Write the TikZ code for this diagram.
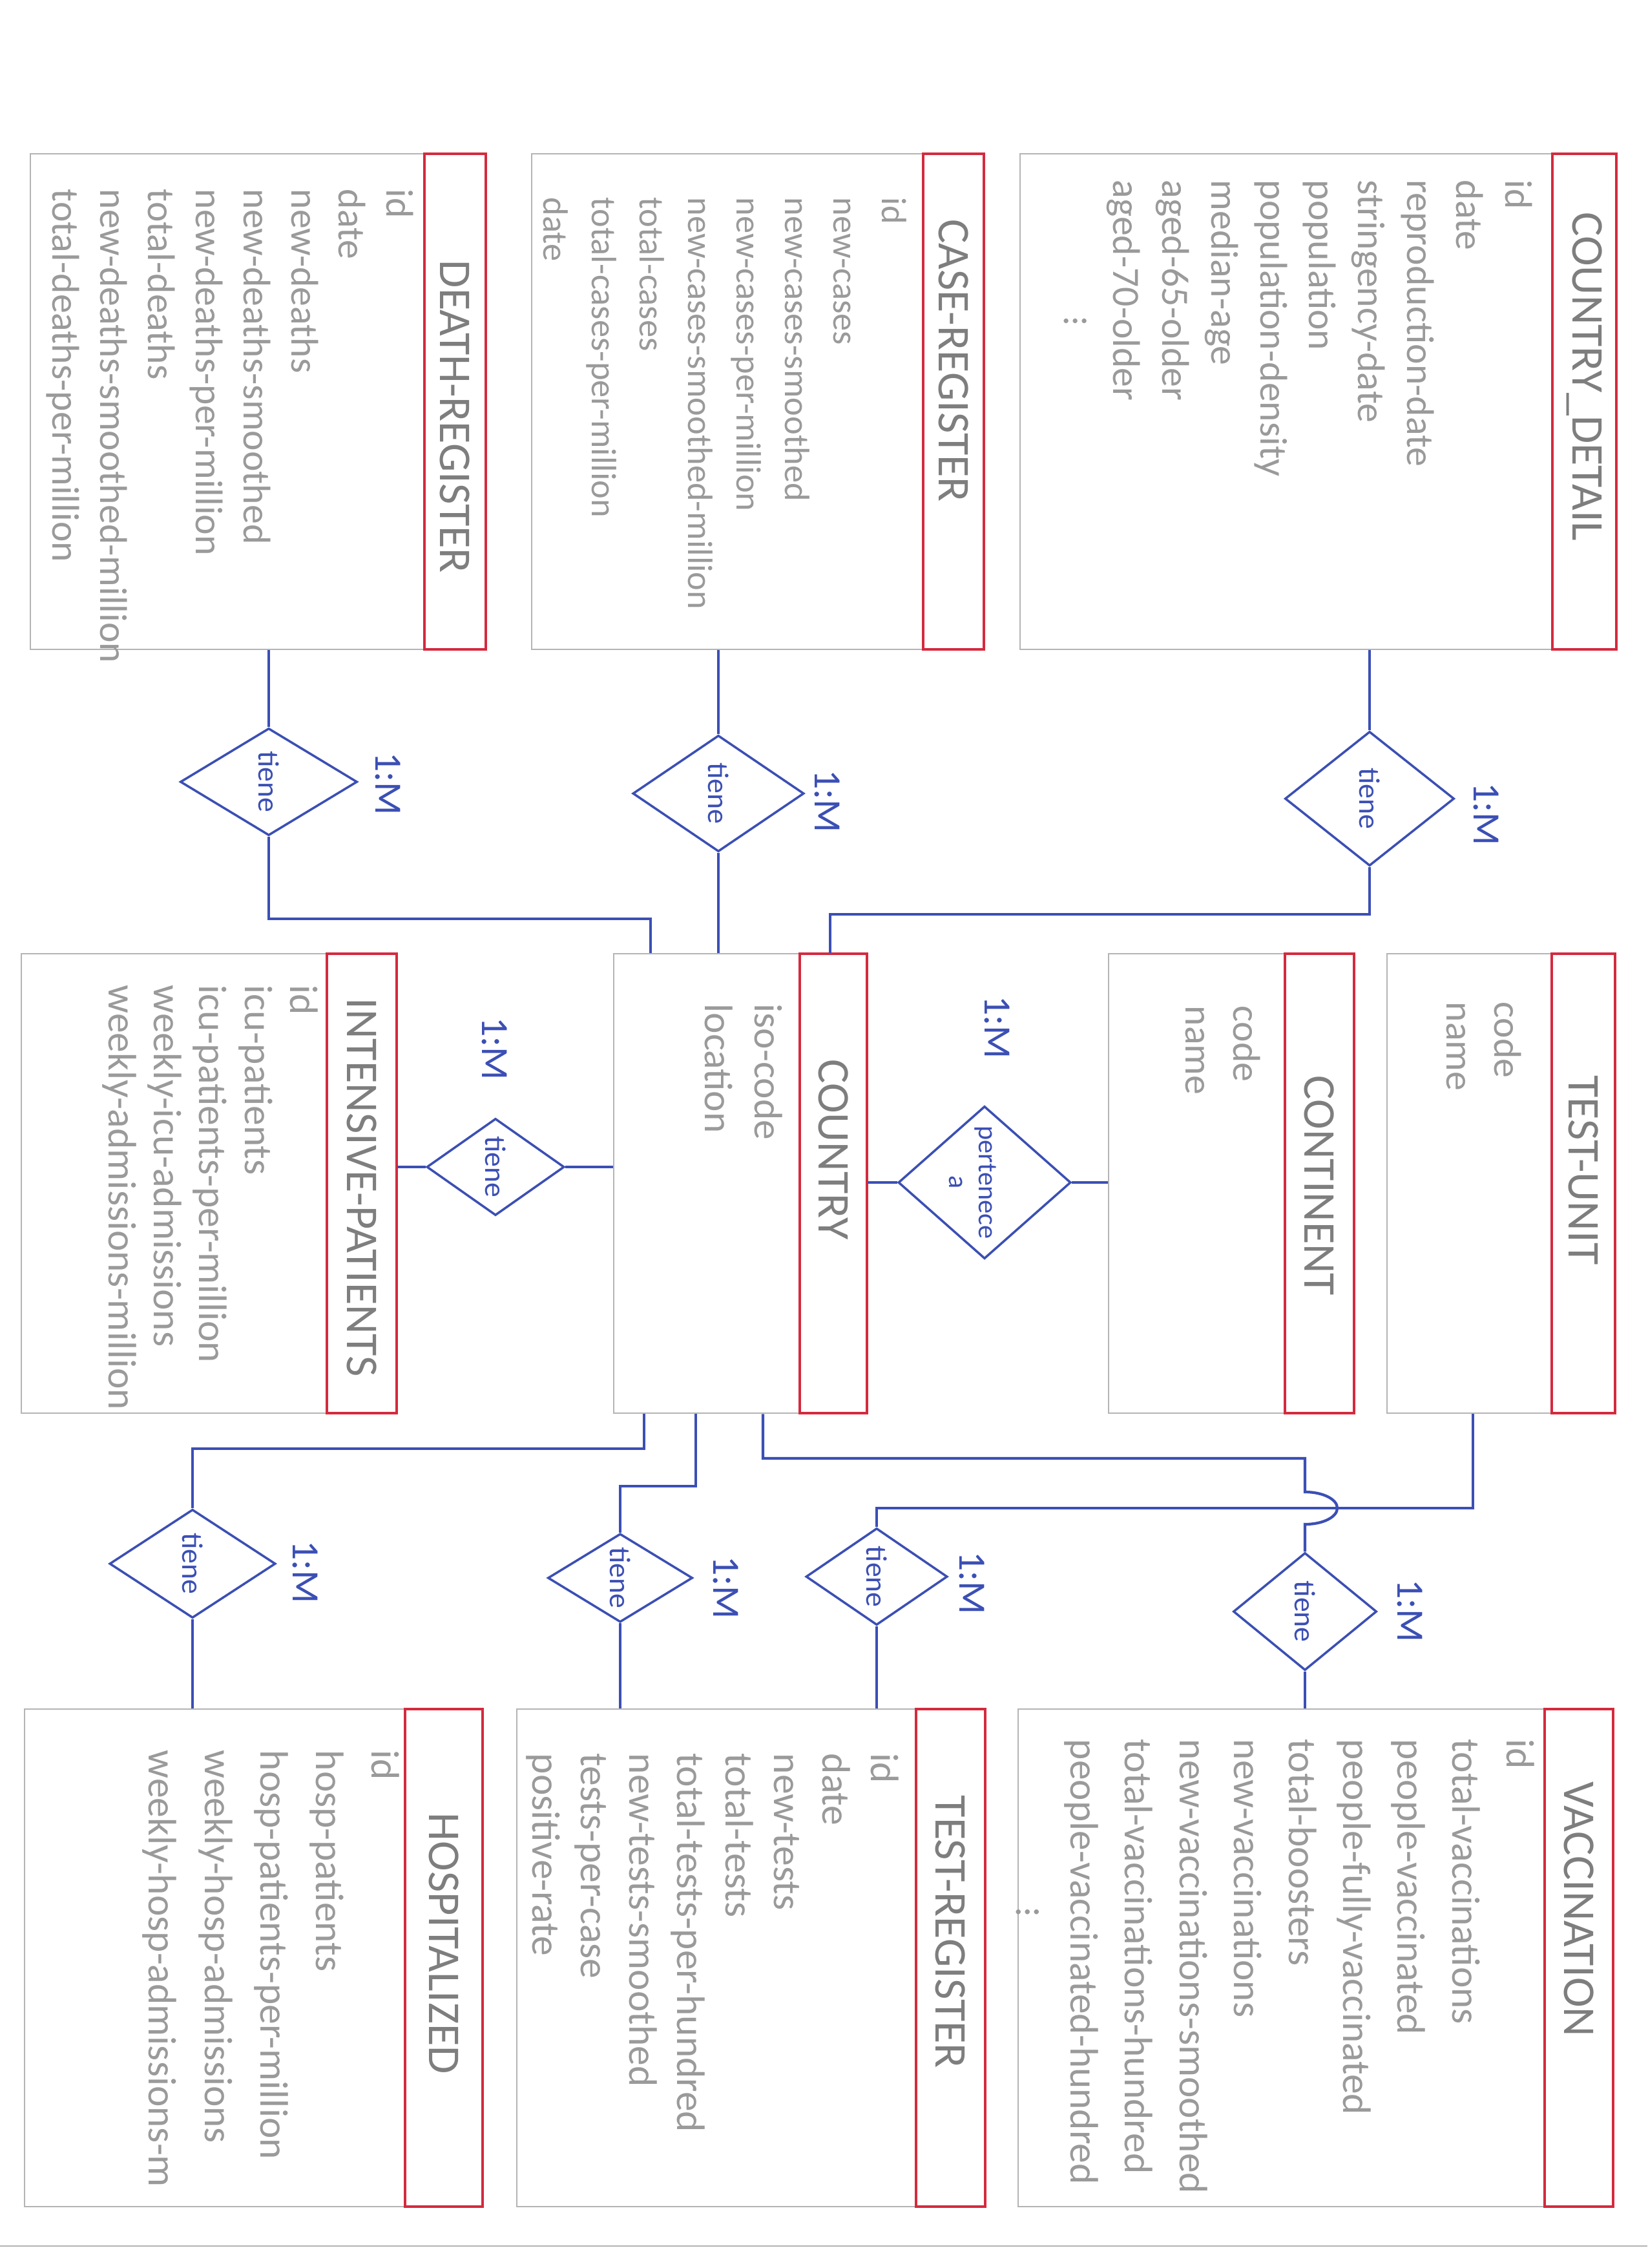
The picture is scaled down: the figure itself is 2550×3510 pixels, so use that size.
\documentclass[tikz,border=0pt]{standalone}
\usepackage{fontspec}
\setmainfont{Carlito}
\usetikzlibrary{shapes.geometric}

\definecolor{pencil}{HTML}{B4B4B4}
\definecolor{lead}{HTML}{9A9A9A}
\definecolor{graphite}{HTML}{7E7E7E}
\definecolor{crayon}{HTML}{D42A3E}
\definecolor{ink}{HTML}{3B4FB4}

\begin{document}
\begin{tikzpicture}[x=0.01cm, y=-0.01cm,
	entbox/.style={draw=pencil, line width=0.7pt, inner sep=0pt},
	entname/.style={draw=crayon, line width=1.2pt, inner sep=0pt},
	entlabel/.style={rotate=-90, text=graphite, font=\fontsize{20}{24}\selectfont},
	attr/.style={rotate=-90, anchor=north west, align=left, inner sep=0pt, text=lead, font=\fontsize{17}{21}\selectfont},
	rel/.style={diamond, draw=ink, line width=1pt, inner sep=0pt},
	reltext/.style={rotate=-90, text=ink, align=center, font=\fontsize{13}{14}\selectfont},
	card/.style={rotate=-90, text=ink, font=\fontsize{17}{20}\selectfont},
	wire/.style={draw=ink, line width=1.2pt}]
	\path[use as bounding box, fill=white] (0,0) rectangle (2550,3510);
	\draw[pencil, line width=0.8pt] (0,3476) -- (2550,3476);
	\foreach \n/\xa/\ya/\xb/\yb/\ha/\ty/\t in {
		death/47/238/752/1005/657/645/DEATH-REGISTER,
		case/823/238/1523/1005/1429/558/CASE-REGISTER,
		cdetail/1579/238/2502/1005/2403/583/COUNTRY\_DETAIL,
		icu/33/1476/614/2187/506/1838/INTENSIVE-PATIENTS,
		country/950/1476/1342/2187/1238/1779/COUNTRY,
		continent/1716/1476/2096/2187/1989/1835/CONTINENT,
		testunit/2147/1476/2500/2187/2402/1811/TEST-UNIT,
		hosp/38/2645/747/3415/627/3008/HOSPITALIZED,
		testreg/800/2645/1525/3415/1418/2990/TEST-REGISTER,
		vacc/1576/2645/2497/3415/2391/2955/VACCINATION}
	{
		\node[entbox, minimum width={(\xb-\xa)*0.01cm}, minimum height={(\yb-\ya)*0.01cm}] (\n) at ({(\xa+\xb)/2},{(\ya+\yb)/2}) {};
		\node[entname, minimum width={(\xb-\ha)*0.01cm}, minimum height={(\yb-\ya)*0.01cm}] (\n name) at ({(\ha+\xb)/2},{(\ya+\yb)/2}) {};
		\node[entlabel] (\n title) at ({(\ha+\xb)/2},\ty) {\t};
	}
	\node[attr] (death attr) at (641,292) {id\\date\\new-deaths\\new-deaths-smoothed\\new-deaths-per-million\\total-deaths\\new-deaths-smoothed-million\\total-deaths-per-million};
	\node[attr, font=\fontsize{15.5}{21.3}\selectfont] (case attr) at (1404,305) {id\\new-cases\\new-cases-smoothed\\new-cases-per-million\\new-cases-smoothed-million\\total-cases\\total-cases-per-million\\date};
	\node[attr, font=\fontsize{17}{21.6}\selectfont] (cdetail attr) at (2373,278) {id\\date\\reproduction-date\\stringency-date\\population\\population-density\\median-age\\aged-65-older\\aged-70-older\\\hspace*{60pt}$\vdots$};
	\node[attr, font=\fontsize{17.5}{20}\selectfont] (icu attr) at (493,1524) {id\\icu-patients\\icu-patients-per-million\\weekly-icu-admissions\\weekly-admissions-million};
	\node[attr, font=\fontsize{17.5}{22}\selectfont] (country attr) at (1212,1553) {iso-code\\location};
	\node[attr] (continent attr) at (1952,1556) {code\\name};
	\node[attr] (testunit attr) at (2356,1550) {code\\name};
	\node[attr, font=\fontsize{17.5}{24.5}\selectfont] (hosp attr) at (619,2708) {id\\hosp-patients\\hosp-patients-per-million\\weekly-hosp-admissions\\weekly-hosp-admissions-m};
	\node[attr, font=\fontsize{17.5}{21.3}\selectfont] (testreg attr) at (1392,2713) {id\\date\\new-tests\\total-tests\\total-tests-per-hundred\\new-tests-smoothed\\tests-per-case\\positive-rate};
	\node[attr, font=\fontsize{17.5}{24}\selectfont] (vacc attr) at (2376,2691) {id\\total-vaccinations\\people-vaccinated\\people-fully-vaccinated\\total-boosters\\new-vaccinations\\new-vaccinations-smoothed\\total-vaccinations-hundred\\people-vaccinated-hundred\\\hspace*{74pt}$\vdots$};
	\foreach \n/\x/\y/\w/\h in {
		rdeath/416/1210/274/166,
		rcase/1112/1228/265/180,
		rcd/2120/1236/262/208,
		ricu/767/1806/213/150,
		rhosp/298/2420/257/168,
		rtreg/960/2442/224/137,
		rtunit/1357/2440/219/150,
		rvacc/2020/2494/222/182}
	{
		\node[rel, minimum width={\w*0.01cm}, minimum height={\h*0.01cm}, label={[reltext]center:tiene}] (\n) at (\x,\y) {};
	}
	\node[rel, minimum width=2.67cm, minimum height=2.36cm, label={[xshift=-0.18cm, reltext, font=\fontsize{12}{13}\selectfont]center:pertenece\\a}] (rcont) at (1524,1830) {};
	\foreach \n/\x/\y in {rdeath/600/1213, rcase/1280/1240, rcd/2300/1260, ricu/765/1623, rcont/1543/1590,
		rhosp/472/2433, rtreg/1123/2457, rtunit/1504/2450, rvacc/2182/2493}
		\node[card] (\n card) at (\x,\y) {1:M};
	\coordinate (jdeath) at (1007,1422);
	\coordinate (jcd) at (1285,1415);
	\coordinate (jhosp) at (997,2242);
	\coordinate (jtreg) at (1077,2300);
	\coordinate (jvacc) at (1181,2257);
	\coordinate (jtunit) at (2280,2334);
	\coordinate (hop) at (2020,2309);
	\draw[wire] (rdeath.north |- death.south) -- (rdeath.north);
	\draw[wire] (rdeath.south) |- (jdeath) -- (jdeath |- country.north);
	\draw[wire] (rcase.north |- case.south) -- (rcase.north);
	\draw[wire] (rcase.south) -- (rcase.south |- country.north);
	\draw[wire] (rcd.north |- cdetail.south) -- (rcd.north);
	\draw[wire] (rcd.south) |- (jcd) -- (jcd |- country.north);
	\draw[wire] (icu.east |- ricu.west) -- (ricu.west);
	\draw[wire] (ricu.east) -- (ricu.east -| country.west);
	\draw[wire] (country.east |- rcont.west) -- (rcont.west);
	\draw[wire] (rcont.east) -- (rcont.east -| continent.west);
	\draw[wire] (jhosp |- country.south) -- (jhosp) -| (rhosp.north);
	\draw[wire] (rhosp.south) -- (rhosp.south |- hosp.north);
	\draw[wire] (jtreg |- country.south) -- (jtreg) -| (rtreg.north);
	\draw[wire] (rtreg.south) -- (rtreg.south |- testreg.north);
	\draw[wire] (jtunit |- testunit.south) -- (jtunit) -| (rtunit.north);
	\draw[wire] (rtunit.south) -- (rtunit.south |- testreg.north);
	\draw[wire] (jvacc |- country.south) -- (jvacc) -| (hop) arc[start angle=90, end angle=-90, x radius=0.5cm, y radius=0.25cm] -- (rvacc.north);
	\draw[wire] (rvacc.south) -- (rvacc.south |- vacc.north);
\end{tikzpicture}
\end{document}
